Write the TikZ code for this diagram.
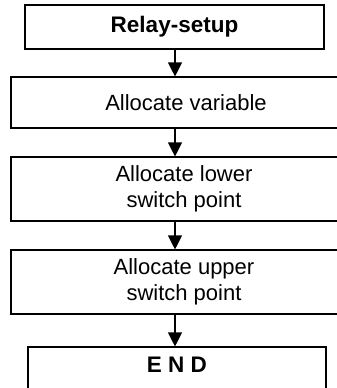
\documentclass[tikz,border=0pt]{standalone}
\usepackage{fontspec}
\setmainfont{Liberation Sans}
\usetikzlibrary{arrows.meta}
\begin{document}
\begin{tikzpicture}[x=1pt,y=-1pt,
  stepbox/.style={draw=black, line width=1.1pt, rectangle, inner sep=0pt,
    align=center, font=\fontsize{22}{26.5}\selectfont},
  bold/.style={font=\fontsize{22.5}{26.5}\selectfont\bfseries},
  arr/.style={line width=1.1pt, -{Triangle[width=14pt,length=14pt]}}]
\clip (0,0) rectangle (337,388);
\fill[white] (0,0) rectangle (337,388);
\node[stepbox, bold, minimum width=299pt, minimum height=44pt] (b1) at (174.5,27) {Relay-setup};
\node[stepbox, minimum width=350pt, minimum height=51pt] (b2) at (186,102.5) {Allocate variable};
\node[stepbox, minimum width=346pt, minimum height=64pt] (b3) at (184,189) {Allocate lower\\switch point};
\node[stepbox, minimum width=346pt, minimum height=64pt] (b4) at (184,282) {Allocate upper\\switch point};
\node[stepbox, minimum width=298pt, minimum height=50pt,
  label={[anchor=center, yshift=-18pt, bold]north:E N D}] (b5) at (177,372) {};
\coordinate (ax) at (175,0);
\draw[arr] (b1.south -| ax) -- (b2.north -| ax);
\draw[arr] (b2.south -| ax) -- (b3.north -| ax);
\draw[arr] (b3.south -| ax) -- (b4.north -| ax);
\draw[arr] (b4.south -| ax) -- (b5.north -| ax);
\end{tikzpicture}
\end{document}
